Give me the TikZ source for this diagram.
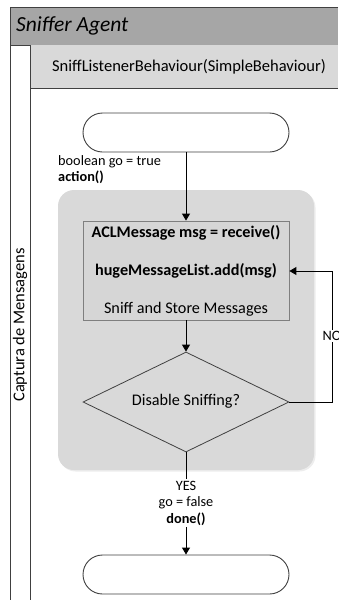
\documentclass[tikz,border=0pt]{standalone}
\usepackage{fontspec}
\setmainfont{Carlito}
\usetikzlibrary{shapes.geometric,arrows.meta}
\definecolor{hdrdark}{HTML}{A6A6A6}
\definecolor{hdrlight}{HTML}{D9D9D9}
\definecolor{groupbg}{HTML}{D9D9D9}
\definecolor{procbg}{HTML}{D6D6D6}
\definecolor{procline}{HTML}{7F7F7F}
\definecolor{inkline}{HTML}{404040}
\tikzset{
  terminal/.style={draw=inkline, line width=0.9pt, fill=white, rounded corners=19.5pt,
    minimum width=206pt, minimum height=39pt, inner sep=0pt},
  procbox/.style={draw=procline, line width=0.8pt, fill=procbg,
    minimum width=206pt, minimum height=99pt, inner sep=0pt},
  decision/.style={draw=inkline, line width=0.8pt, fill=groupbg, diamond, aspect=2.06,
    minimum width=206pt, minimum height=100pt, inner sep=0pt},
  flow/.style={line width=0.9pt, draw=black, -{Triangle[length=7pt,width=8pt]}},
  plainflow/.style={line width=0.9pt, draw=black},
  boxtext/.style={font=\fontsize{16.2}{18}\selectfont, inner sep=0pt},
  boldtext/.style={font=\fontsize{16.2}{18}\selectfont\bfseries, inner sep=0pt},
  lanetext/.style={font=\fontsize{16.5}{18}\selectfont, inner sep=0pt},
  smalltext/.style={font=\fontsize{14.3}{16.5}\selectfont, align=center, inner sep=0pt},
}
\begin{document}
\begin{tikzpicture}[x=1pt,y=-1pt]
\useasboundingbox (0,0) rectangle (338,600);
% pool header and behaviour header
\fill[hdrdark] (10,7) rectangle (338,45);
\draw[inkline, line width=0.8pt] (338,7) -- (10,7) -- (10,45) -- (338,45);
\node[anchor=west, font=\fontsize{21.5}{24}\selectfont\itshape, inner sep=0pt] (agent) at (16,26) {Sniffer Agent};
\fill[hdrlight] (30,45) rectangle (338,88);
\draw[inkline, line width=0.8pt] (30,45) -- (30,88) -- (338,88);
\node[font=\fontsize{16.5}{18}\selectfont, inner sep=0pt] (beh) at (189,66.5) {SniffListenerBehaviour(SimpleBehaviour)};
% lane borders
\draw[inkline, line width=0.8pt] (10,45) -- (10,600);
\draw[inkline, line width=0.8pt] (30,88) -- (30,600);
\node[lanetext, rotate=90] (lane) at (20,325) {Captura de Mensagens};
% grouping region
\fill[black!7, rounded corners=16pt] (59.5,191.5) rectangle (315.5,471.5);
\fill[groupbg, rounded corners=16pt] (58,190) rectangle (314,470);
% flow nodes
\node[terminal] (start) at (186,132.5) {};
\node[procbox] (proc) at (186,270.5) {};
\node[boldtext] (recv) at (186,233) {ACLMessage msg = receive()};
\node[boldtext] (addmsg) at (186,271) {hugeMessageList.add(msg)};
\node[boxtext] (proclabel) at (186,309) {Sniff and Store Messages};
\node[decision] (dec) at (186,402) {};
\node[boxtext] (declabel) at (186,401) {Disable Sniffing?};
\node[terminal] (stop) at (186,574.5) {};
% labels on connectors
\node[smalltext, anchor=north west, align=left] (golabel) at (58,155) {boolean go = true\\\textbf{action()}};
\node[smalltext, fill=white, inner sep=1.5pt] (yeslabel) at (186,503) {YES\\go = false\\\textbf{done()}};
\coordinate (noright) at (332,402);
\coordinate (notop) at (332,271);
% connectors
\draw[flow] (start.south) -- (proc.north);
\draw[flow] (proc.south) -- (dec.north);
\draw[plainflow] (dec.south) -- (yeslabel.north);
\draw[flow] (yeslabel.south) -- (stop.north);
\draw[flow] (dec.east) -- (noright) -- (notop) -- (proc.east |- notop);
\node[smalltext, fill=white, inner sep=1.5pt] (nolabel) at (332,336) {NO};
\end{tikzpicture}
\end{document}
